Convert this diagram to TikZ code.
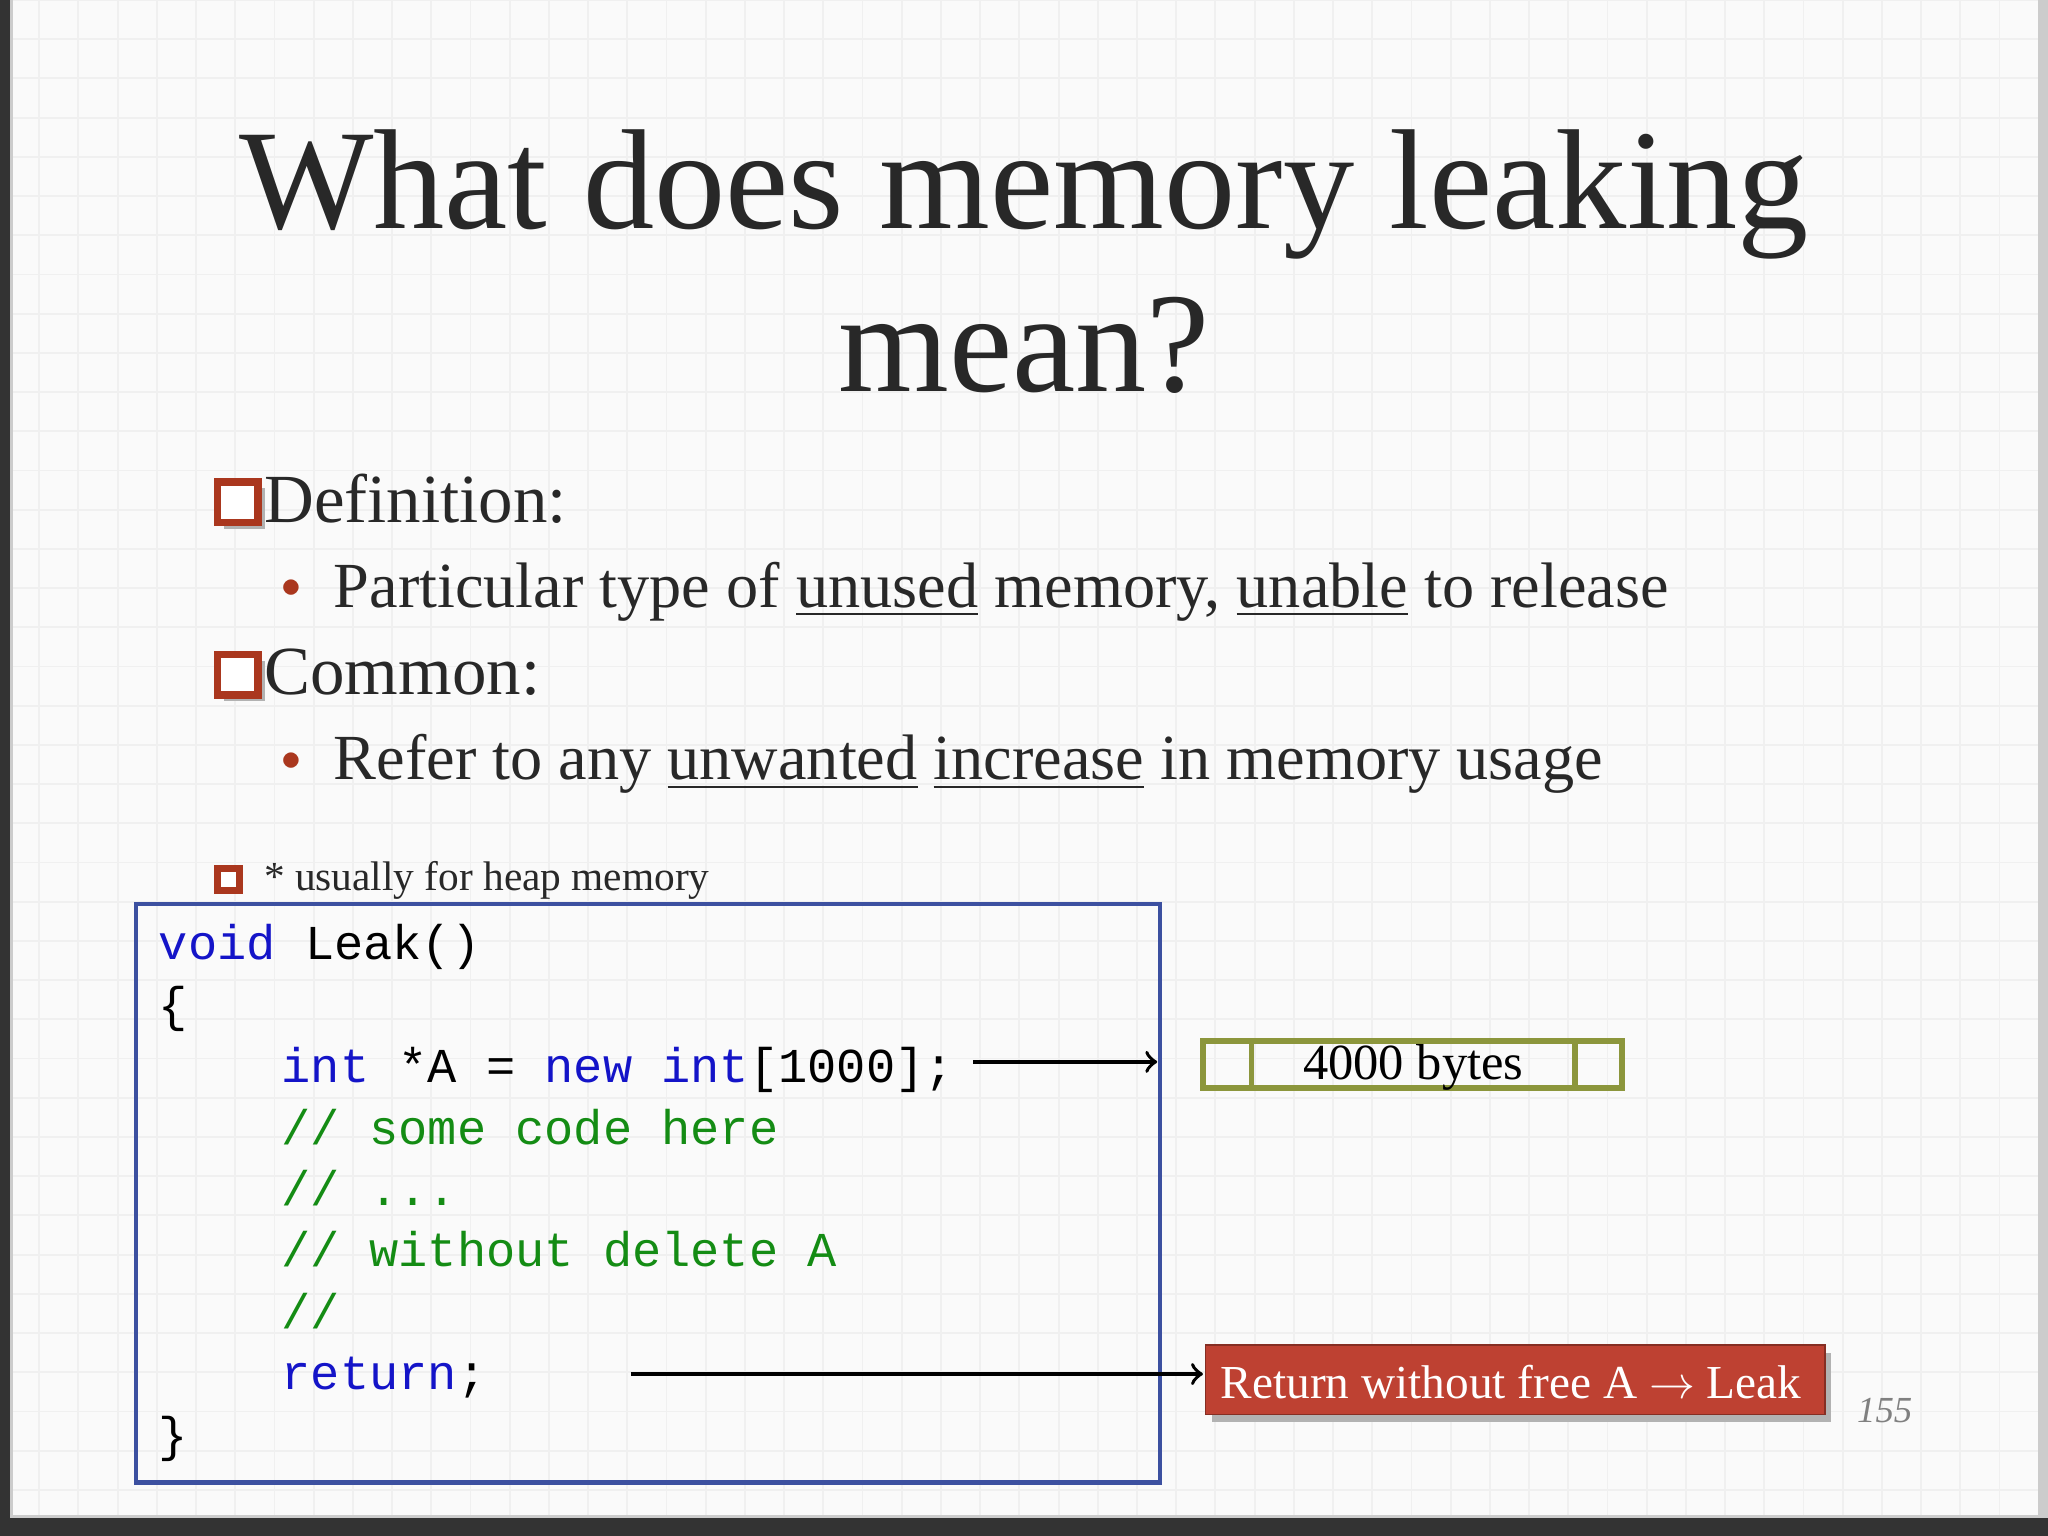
\documentclass[tikz,border=0pt]{standalone}
\usepackage{fontspec}
\setmainfont{Liberation Serif}
\setmonofont{Liberation Mono}
\usetikzlibrary{positioning}
\definecolor{kwblue}{RGB}{20,20,200}
\definecolor{cmgreen}{RGB}{20,140,20}
\definecolor{boxblue}{RGB}{60,80,160}
\definecolor{olivebox}{RGB}{140,150,60}
\definecolor{leakred}{RGB}{190,65,50}
\definecolor{chkred}{RGB}{170,55,30}
\definecolor{titlegray}{RGB}{40,40,40}
\newcommand{\kw}[1]{\textcolor{kwblue}{#1}}
\newcommand{\cm}[1]{\textcolor{cmgreen}{#1}}
\newcommand{\chk}[1]{\tikz[baseline=0pt,x=1cm,y=1cm,scale=#1]{\fill[gray!60] (0.05,-0.05) rectangle (0.36,0.26);\draw[chkred,line width=1.6pt,fill=white] (0,0) rectangle (0.31,0.31);}}
\newcommand{\bul}{\textcolor{chkred}{\raisebox{0.15em}{\scalebox{0.6}{$\bullet$}}}}
\tikzset{
  codeline/.style={anchor=base west, font=\ttfamily\fontsize{10.6}{11}\selectfont, inner sep=0pt},
  bodytext/.style={anchor=base west, text=titlegray, inner sep=0pt},
  ptr/.style={->, thick}
}
\begin{document}
\begin{tikzpicture}[x=0.01cm, y=-0.01cm]
\useasboundingbox (0,0) rectangle (1568,1176);
% slide background
\fill[gray!40] (0,0) rectangle (1568,1176);
\fill[white!96!gray] (10,0) rectangle (1560,1160);
\draw[gray!12, step=0.3cm] (10,0) grid (1560,1160);
\fill[black!80] (0,0) rectangle (8,1176);
\fill[black!80] (0,1162) rectangle (1568,1176);

% title
\node[text=titlegray, font=\fontsize{31}{36}\selectfont, anchor=base] (title1) at (784,175) {What does memory leaking};
\node[text=titlegray, font=\fontsize{31}{36}\selectfont, anchor=base] (title2) at (784,300) {mean?};

% bullets
\node[bodytext, font=\fontsize{15}{16}\selectfont] (def) at (163,400) {\chk{1}Definition:};
\node[bodytext, font=\fontsize{14}{16}\selectfont] (defb) at (215,465) {\bul\ \ Particular type of \underline{unused} memory, \underline{unable} to release};
\node[bodytext, font=\fontsize{15}{16}\selectfont] (com) at (163,532) {\chk{1}Common:};
\node[bodytext, font=\fontsize{14}{16}\selectfont] (comb) at (215,597) {\bul\ \ Refer to any \underline{unwanted} \underline{increase} in memory usage};
\node[bodytext, font=\fontsize{9}{10}\selectfont] (note) at (163,682) {\chk{0.55}\ \ * usually for heap memory};

% code box
\draw[boxblue, line width=1pt] (104,692) rectangle (888,1135);
\node[codeline] (c1) at (121,735) {\kw{void} Leak()};
\node[codeline] (c2) at (121,782) {\{};
\node[codeline] (c3) at (215,829) {\kw{int} *A = \kw{new} \kw{int}[1000];};
\node[codeline] (c4) at (215,876) {\cm{// some code here}};
\node[codeline] (c5) at (215,923) {\cm{// ...}};
\node[codeline] (c6) at (215,970) {\cm{// without delete A}};
\node[codeline] (c7) at (215,1017) {\cm{//}};
\node[codeline] (c8) at (215,1064) {\kw{return};};
\node[codeline] (c9) at (121,1111) {\}};

% memory block
\draw[olivebox, line width=1.2pt] (921,797) rectangle (1242,833);
\draw[olivebox, line width=1.2pt] (958,797) -- (958,833) (1206,797) -- (1206,833);
\node[font=\fontsize{11}{12}\selectfont] (bytes) at (1082,817) {4000 bytes};
\coordinate (newend) at (745,813);
\coordinate (mem) at (886,813);
\draw[ptr] (newend) -- (mem);

% leak box
\fill[gray!60] (928,1036) rectangle (1402,1089);
\filldraw[fill=leakred, draw=leakred!70!black] (923,1030) rectangle (1397,1083);
\node[text=white, font=\fontsize{10.3}{12}\selectfont] (leak) at (1157,1058) {Return without free A $\rightarrow$ Leak};
\coordinate (retend) at (483,1052);
\coordinate (leakin) at (921,1052);
\draw[ptr] (retend) -- (leakin);

% page number
\node[text=gray, font=\itshape\fontsize{8}{10}\selectfont] (pg) at (1443,1080) {155};
\end{tikzpicture}
\end{document}
